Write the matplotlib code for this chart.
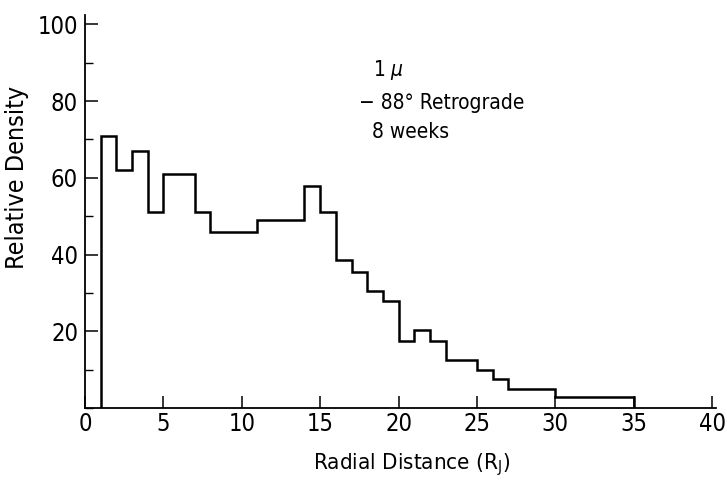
import numpy as np
import matplotlib
matplotlib.use("Agg")
import matplotlib.pyplot as plt
from matplotlib.ticker import MultipleLocator

# bin edges (R_J) and relative density per bin
edges = [1, 2, 3, 4, 5, 7, 8, 11, 14, 15, 16, 17, 18, 19, 20, 21, 22, 23, 25, 26, 27, 30, 35]
density = [71, 62, 67, 51, 61, 51, 46, 49, 58, 51, 38.5, 35.5, 30.5, 28, 17.5, 20.5, 17.5, 12.5, 10, 7.5, 5, 3]

x_ticks = [0, 5, 10, 15, 20, 25, 30, 35, 40]
y_ticks = [20, 40, 60, 80, 100]
note_lines = ["1 $\\mu$", "\u2212 88\u00b0 Retrograde", "8 weeks"]

plt.rcParams['font.family'] = ['DejaVu Sans']
plt.rcParams['font.stretch'] = 'condensed'

fig = plt.figure(figsize=(7.27, 4.82), dpi=100)
ax = fig.add_axes([85 / 727, 1 - 408.3 / 482, (716 - 85) / 727, (408.3 - 15) / 482])

ax.stairs(density, edges, baseline=0, color='black', linewidth=1.8)

ax.set_xlim(0.32, 40.25)
ax.set_ylim(0, 102.4)

ax.spines['top'].set_visible(False)
ax.spines['right'].set_visible(False)
for s in ('left', 'bottom'):
    ax.spines[s].set_linewidth(1.3)

ax.set_xticks(x_ticks)
ax.set_yticks(y_ticks)
ax.yaxis.set_minor_locator(MultipleLocator(10))
ax.tick_params(axis='both', which='major', direction='in', length=9, width=1.1, labelsize=17)
ax.tick_params(axis='x', which='major', pad=3)
ax.tick_params(axis='y', which='major', pad=5)
ax.tick_params(axis='y', which='minor', direction='in', length=6, width=1.0)

ax.set_xlabel("Radial Distance (R$_\\mathregular{J}$)", fontsize=16, va='center')
ax.set_ylabel("Relative Density", fontsize=18, va='center')
ax.xaxis.set_label_coords(0.518, -0.144)
ax.yaxis.set_label_coords(-0.107, 0.586)

ax.text(18.4, 88.1, note_lines[0], fontsize=15, va='center', ha='left')
ax.text(17.45, 79.5, note_lines[1], fontsize=15, va='center', ha='left')
ax.text(18.3, 72.0, note_lines[2], fontsize=15, va='center', ha='left')

fig.savefig("out.png", dpi=100)
